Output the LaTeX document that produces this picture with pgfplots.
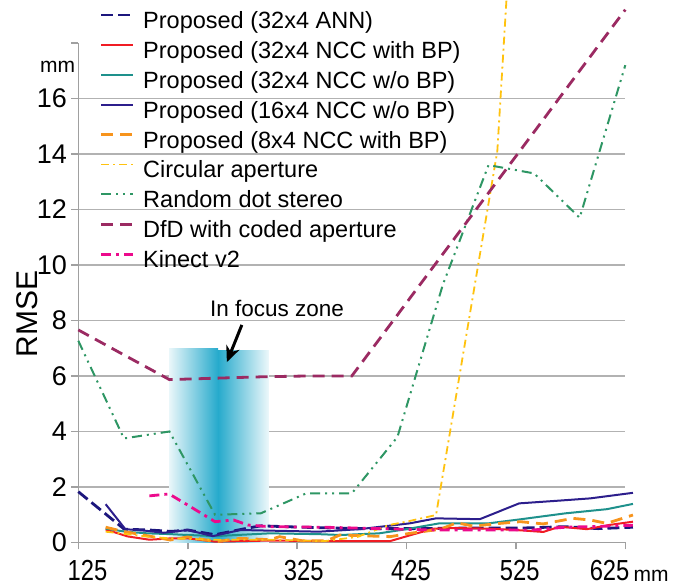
\documentclass[border=0pt]{standalone}
\usepackage{fontspec}
\setmainfont{Liberation Sans}
\usepackage{graphicx}
\usepackage{pgfplots}
\pgfplotsset{compat=1.18}
\usetikzlibrary{arrows.meta}

\definecolor{annblue}{RGB}{28,22,125}
\definecolor{nccred}{RGB}{240,28,36}
\definecolor{nccteal}{RGB}{30,145,140}
\definecolor{sixteenblue}{RGB}{44,30,140}
\definecolor{eightorange}{RGB}{247,148,29}
\definecolor{circyellow}{RGB}{255,194,14}
\definecolor{dotgreen}{RGB}{46,150,100}
\definecolor{dfdpurple}{RGB}{155,42,98}
\definecolor{kinectpink}{RGB}{236,10,140}
\definecolor{focuscyan}{RGB}{38,170,204}
\definecolor{axisgray}{RGB}{160,160,160}
\definecolor{gridgray}{RGB}{178,178,178}

% x tick labels sit a little off their ticks, as in the original
\newcommand{\xlab}[2]{\makebox[0pt][c]{\hspace*{#1}\scalebox{0.82}[1]{#2}}}

\begin{document}
\begin{tikzpicture}
\begin{axis}[
    scale only axis,
    width=273.5pt, height=249.75pt,
    xmin=125, xmax=625, ymin=0, ymax=18,
    clip=false,
    axis x line*=bottom, axis y line*=left,
    axis line style={draw=axisgray, line width=0.8pt},
    xtick={125,225,325,425,525,625},
    xticklabels={\xlab{9.2pt}{125},\xlab{6.7pt}{225},\xlab{6.7pt}{325},\xlab{4.4pt}{425},\xlab{3.8pt}{525},\xlab{-15.7pt}{625}},
    ytick={0,2,...,16},
    extra y ticks={18}, extra y tick labels={},
    extra y tick style={grid=none},
    ymajorgrids,
    grid style={draw=gridgray, line width=0.8pt},
    tick style={draw=axisgray, line width=0.8pt},
    tick align=outside,
    major tick length=3.5pt,
    /pgf/number format/assume math mode=true,
    xticklabel style={font=\fontsize{14.5}{16}\selectfont, inner sep=0pt, anchor=north, yshift=-5pt},
    yticklabel style={font=\fontsize{13.5}{15}\selectfont, inner sep=0pt, anchor=east, xshift=-2pt},
    ylabel={RMSE},
    every axis y label/.style={at={(axis description cs:-0.094,0.4575)}, rotate=90, anchor=center, font=\fontsize{15}{17}\selectfont},
    legend style={at={(axis description cs:0.0397,1.07)}, anchor=north west,
        draw=none, fill=none, inner sep=0pt, outer sep=0pt,
        row sep=0pt, column sep=4.2pt,
        font=\fontsize{11.75}{14}\selectfont,
        nodes={inner sep=0pt, text height=10.2pt, text depth=4.75pt}},
    legend cell align=left,
    legend image code/.code={\draw[#1] (0pt,4pt) -- (16pt,4pt);},
  ]

  % in focus zone band
  \shade[left color=focuscyan!10, middle color=focuscyan!40, right color=focuscyan]
    (axis cs:208,0) rectangle (axis cs:252.7,7.0);
  \shade[left color=focuscyan, middle color=focuscyan!40, right color=focuscyan!8]
    (axis cs:252.7,0) rectangle (axis cs:299.3,6.93);

  % Proposed (32x4 ANN)
  \addplot[annblue, line width=1.4pt, dash pattern=on 6pt off 2.5pt] coordinates {
    (125,1.83) (167,0.48) (190,0.45) (210,0.40) (225,0.45) (250,0.28) (280,0.52)
    (292,0.60) (330,0.55) (380,0.50) (430,0.50) (480,0.52) (530,0.52) (570,0.57)
    (600,0.50) (632,0.55)
  };
  \addlegendentry{Proposed (32x4 ANN)}

  % Proposed (32x4 NCC with BP)
  \addplot[nccred, line width=1pt] coordinates {
    (150,0.47) (170,0.22) (190,0.10) (210,0.15) (225,0.15) (250,0.03) (300,0.07)
    (350,0.05) (410,0.05) (430,0.28) (450,0.50) (470,0.52) (500,0.50) (525,0.45)
    (550,0.38) (565,0.57) (590,0.48) (610,0.63) (632,0.75)
  };
  \addlegendentry{Proposed (32x4 NCC with BP)}

  % Proposed (32x4 NCC w/o BP)
  \addplot[nccteal, line width=1pt] coordinates {
    (150,0.50) (168,0.39) (188,0.33) (210,0.30) (225,0.27) (250,0.23) (300,0.33)
    (345,0.30) (365,0.27) (400,0.33) (425,0.48) (455,0.69) (500,0.69) (530,0.84)
    (570,1.05) (608,1.20) (632,1.39)
  };
  \addlegendentry{Proposed (32x4 NCC w/o BP)}

  % Proposed (16x4 NCC w/o BP)
  \addplot[sixteenblue, line width=1pt] coordinates {
    (150,1.38) (168,0.48) (185,0.43) (203,0.35) (225,0.45) (248,0.23) (273,0.45)
    (345,0.39) (382,0.48) (428,0.69) (452,0.87) (492,0.84) (528,1.41) (565,1.51)
    (593,1.59) (632,1.79)
  };
  \addlegendentry{Proposed (16x4 NCC w/o BP)}

  % Proposed (8x4 NCC with BP)
  \addplot[eightorange, line width=1.4pt, dash pattern=on 6pt off 3.5pt] coordinates {
    (150,0.55) (166,0.40) (190,0.23) (209,0.09) (225,0.20) (251,0.03) (273,0.15)
    (300,0.10) (309,0.21) (330,0.06) (352,0.06) (364,0.27) (410,0.21) (428,0.33)
    (456,0.48) (471,0.71) (486,0.59) (511,0.69) (529,0.75) (550,0.67) (577,0.87)
    (593,0.81) (608,0.69) (632,0.99)
  };
  \addlegendentry{Proposed (8x4 NCC with BP)}

  % Circular aperture
  \addplot[circyellow, line width=0.9pt, dash pattern=on 4pt off 2pt on 1pt off 2pt] coordinates {
    (150,0.39) (170,0.30) (190,0.20) (210,0.15) (250,0.10) (300,0.10) (350,0.05)
    (380,0.20) (409,0.63) (425,0.75) (452,0.99) (508,14.1) (560,48)
  };
  \addlegendentry{Circular aperture}

  % Random dot stereo
  \addplot[dotgreen, line width=1pt, dash pattern=on 5pt off 2.5pt on 1pt off 2.5pt on 1pt off 2.5pt] coordinates {
    (125,7.27) (166.7,3.75) (208.3,4.00) (250,1.00) (291.7,1.05) (333.3,1.77)
    (375,1.77) (416.7,3.80) (458.3,9.30) (500,13.6) (541.7,13.3) (583.3,11.7)
    (625,17.2)
  };
  \addlegendentry{Random dot stereo}

  % DfD with coded aperture
  \addplot[dfdpurple, line width=1.4pt, dash pattern=on 6pt off 3.5pt] coordinates {
    (125,7.66) (166.7,6.76) (208.3,5.87) (250,5.92) (291.7,5.97) (333.3,6.00)
    (375,6.00) (416.7,8.20) (458.3,10.4) (500,12.6) (541.7,14.8) (583.3,17.0)
    (625,19.2)
  };
  \addlegendentry{DfD with coded aperture}

  % Kinect v2
  \addplot[kinectpink, line width=1.4pt, dash pattern=on 5pt off 2.5pt on 1.5pt off 2.5pt] coordinates {
    (190,1.68) (208,1.75) (230,1.23) (250,0.75) (267,0.81) (280,0.63) (300,0.57)
    (350,0.55) (400,0.50) (450,0.45) (500,0.45) (540,0.45) (570,0.55) (600,0.58)
    (632,0.62)
  };
  \addlegendentry{Kinect v2}

  \node[font=\fontsize{11.25}{13}\selectfont] at (axis cs:306.6,8.45) {In focus zone};
  \draw[line width=1.5pt, -{Stealth[length=8pt, width=7pt]}] (axis cs:274.5,7.84) -- (axis cs:260.8,6.5);
  \node[font=\fontsize{10.5}{12}\selectfont] at (axis cs:106,17.14) {mm};
  \node[font=\fontsize{10.5}{12}\selectfont] at (axis cs:648.5,-1.2) {mm};
\end{axis}
\pgfresetboundingbox
\useasboundingbox (-39.15pt,-22.25pt) rectangle (300.35pt,271.25pt);
\end{tikzpicture}
\end{document}
